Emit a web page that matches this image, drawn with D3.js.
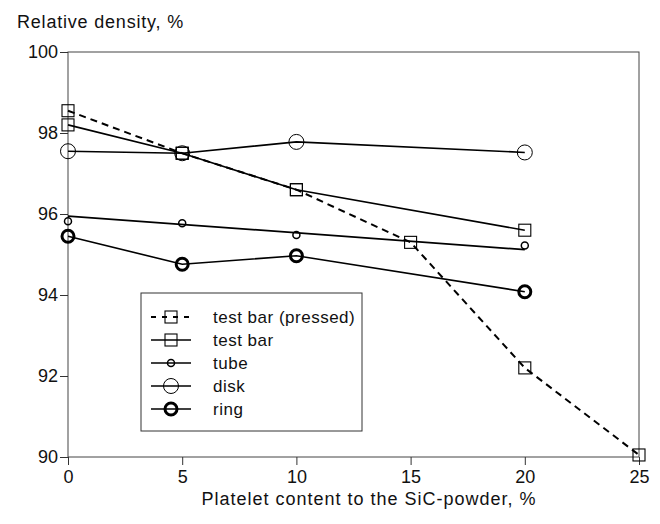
<!DOCTYPE html>
<html>
<head>
<meta charset="utf-8">
<script src="https://cdn.jsdelivr.net/npm/d3@7/dist/d3.min.js"></script>
<style>
  body { margin: 0; background: #fff; }
  svg text { font-family: "Liberation Sans", Arial, sans-serif; fill: #111; }
</style>
</head>
<body>
<div id="chart"></div>
<script>
// Values
const xTicks = [0, 5, 10, 15, 20, 25];
const yTicks = [90, 92, 94, 96, 98, 100];

const pressedX = [0, 5, 10, 15, 20, 25];
const pressedY = [98.55, 97.5, 96.6, 95.3, 92.2, 90.05];

const barX = [0, 5, 10, 20];
const barY = [98.2, 97.5, 96.6, 95.6];

const tubeX = [0, 5, 10, 20];
const tubeY = [95.82, 95.77, 95.48, 95.22];
// straight line drawn through the tube points
const tubeFitX = [0, 20];
const tubeFitY = [95.95, 95.12];

const diskX = [0, 5, 10, 20];
const diskY = [97.55, 97.5, 97.78, 97.52];

const ringX = [0, 5, 10, 20];
const ringY = [95.45, 94.76, 94.97, 94.08];

const seriesNames = ["test bar (pressed)", "test bar", "tube", "disk", "ring"];

const W = 660, H = 524;
const margin = { top: 52, right: 21, bottom: 67, left: 68 };

const svg = d3.select("#chart").append("svg")
    .attr("width", W)
    .attr("height", H);

const x = d3.scaleLinear().domain([0, 25]).range([margin.left, W - margin.right]);
const y = d3.scaleLinear().domain([90, 100]).range([H - margin.bottom, margin.top]);

const zip = (xs, ys) => xs.map((v, i) => [v, ys[i]]);
const line = d3.line().x(d => x(d[0])).y(d => y(d[1]));

// Frame
svg.append("rect")
    .attr("x", x(0)).attr("y", y(100))
    .attr("width", x(25) - x(0)).attr("height", y(90) - y(100))
    .attr("fill", "none").attr("stroke", "#444").attr("stroke-width", 1);

// Axes
const yAxis = svg.append("g")
    .attr("transform", `translate(${x(0)},0)`)
    .call(d3.axisLeft(y).tickValues(yTicks).tickSize(8).tickPadding(2));
const xAxis = svg.append("g")
    .attr("transform", `translate(0,${y(90)})`)
    .call(d3.axisBottom(x).tickValues(xTicks).tickSize(8).tickPadding(5));

[xAxis, yAxis].forEach(g => {
    g.select(".domain").remove();
    g.selectAll("line").attr("stroke", "#333");
    g.selectAll("text")
        .style("font-size", "18px")
        .style("font-family", "'Liberation Sans', Arial, sans-serif")
        .attr("fill", "#111");
});

// Axis titles
svg.append("text")
    .attr("x", 17).attr("y", 28)
    .style("font-size", "18px")
    .style("letter-spacing", "0.8px")
    .text("Relative density, %");

svg.append("text")
    .attr("x", 369).attr("y", 505)
    .attr("text-anchor", "middle")
    .style("font-size", "18px")
    .style("letter-spacing", "1px")
    .text("Platelet content to the SiC-powder, %");

// Lines
const lineG = svg.append("g").attr("fill", "none").attr("stroke", "#000");

lineG.append("path").attr("d", line(zip(pressedX, pressedY)))
    .attr("stroke-width", 2).attr("stroke-dasharray", "7,5");
lineG.append("path").attr("d", line(zip(barX, barY))).attr("stroke-width", 1.6);
lineG.append("path").attr("d", line(zip(tubeFitX, tubeFitY))).attr("stroke-width", 1.8);
lineG.append("path").attr("d", line(zip(diskX, diskY))).attr("stroke-width", 1.6);
lineG.append("path").attr("d", line(zip(ringX, ringY))).attr("stroke-width", 1.6);

// Marker drawers
function square(g, cx, cy) {
    g.append("rect")
        .attr("x", cx - 6).attr("y", cy - 6)
        .attr("width", 12).attr("height", 12)
        .attr("fill", "none").attr("stroke", "#000").attr("stroke-width", 1.1);
}
function circle(g, cx, cy, r, sw) {
    g.append("circle")
        .attr("cx", cx).attr("cy", cy).attr("r", r)
        .attr("fill", "none").attr("stroke", "#000").attr("stroke-width", sw);
}

const markers = {
    "test bar (pressed)": (g, a, b) => square(g, a, b),
    "test bar": (g, a, b) => square(g, a, b),
    "tube": (g, a, b) => circle(g, a, b, 3.5, 1.5),
    "disk": (g, a, b) => circle(g, a, b, 7.5, 1),
    "ring": (g, a, b) => circle(g, a, b, 6, 3)
};

const markG = svg.append("g");
zip(pressedX, pressedY).forEach(d => markers["test bar (pressed)"](markG, x(d[0]), y(d[1])));
zip(barX, barY).forEach(d => markers["test bar"](markG, x(d[0]), y(d[1])));
zip(tubeX, tubeY).forEach(d => markers["tube"](markG, x(d[0]), y(d[1])));
zip(diskX, diskY).forEach(d => markers["disk"](markG, x(d[0]), y(d[1])));
zip(ringX, ringY).forEach(d => markers["ring"](markG, x(d[0]), y(d[1])));

// Legend
const legend = svg.append("g");
legend.append("rect")
    .attr("x", 141).attr("y", 293)
    .attr("width", 221).attr("height", 138)
    .attr("fill", "#fff").attr("stroke", "#333").attr("stroke-width", 1);

seriesNames.forEach((name, i) => {
    const cy = 317 + i * 23;
    const row = legend.append("g");
    row.append("line")
        .attr("x1", 151).attr("x2", 191)
        .attr("y1", cy).attr("y2", cy)
        .attr("stroke", "#000")
        .attr("stroke-width", i === 0 ? 2 : 1.6)
        .attr("stroke-dasharray", i === 0 ? "5,6" : null);
    markers[name](row, 171, cy);
    row.append("text")
        .attr("x", 213).attr("y", cy)
        .attr("dy", "0.35em")
        .style("font-size", "17px")
        .style("letter-spacing", "0.5px")
        .text(name);
});
</script>
</body>
</html>
